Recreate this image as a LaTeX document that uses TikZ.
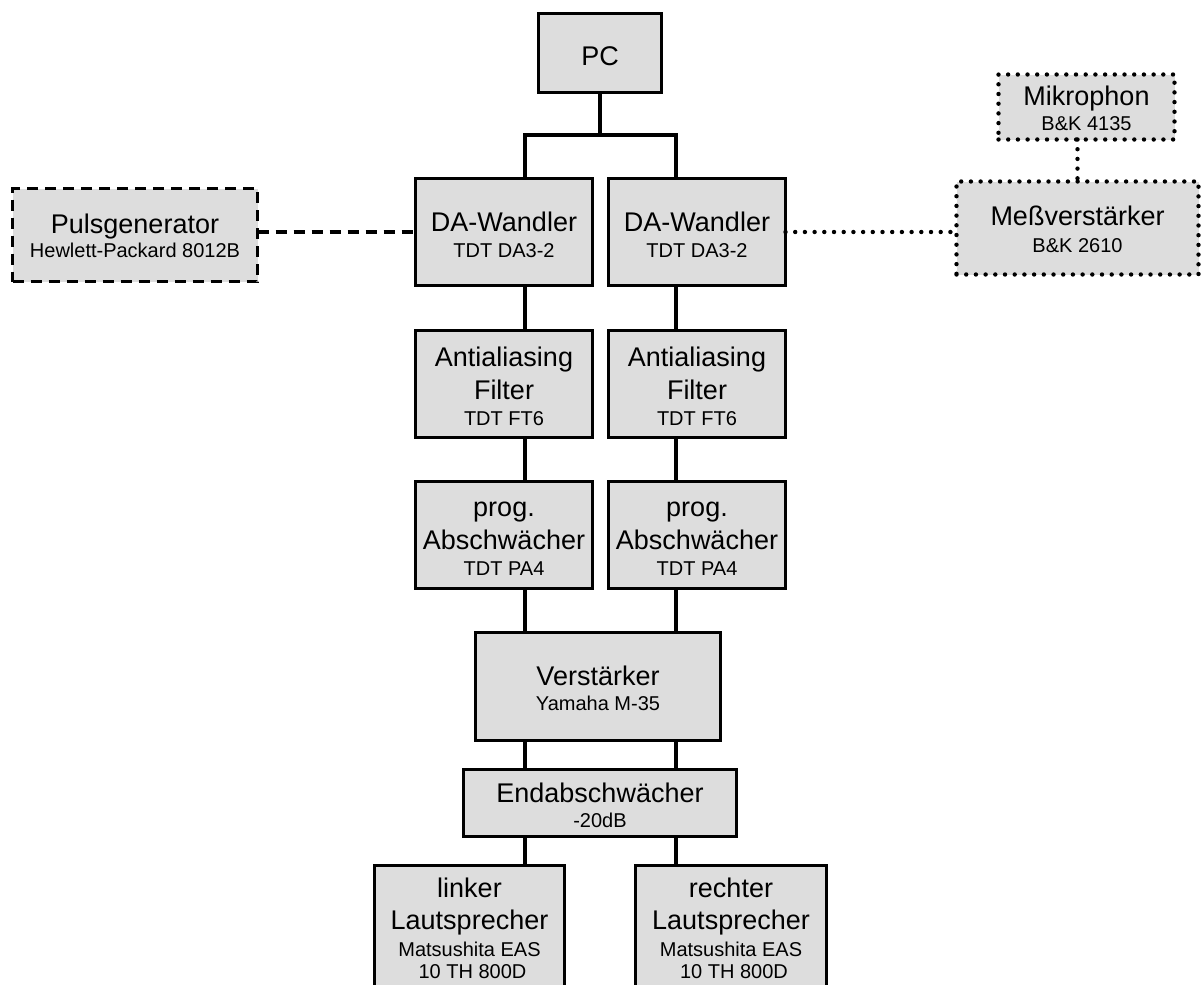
\documentclass[tikz,border=0pt]{standalone}
\usepackage{fontspec}
\setmainfont{Liberation Sans}
\usetikzlibrary{calc}
\definecolor{boxgray}{RGB}{221,221,221}
\tikzset{
  box/.style={draw, line width=3.6pt, fill=boxgray, inner sep=0pt, outer sep=0pt},
  dashbox/.style={box, dash pattern=on 11pt off 7pt},
  dotbox/.style={box, line width=4.4pt, line cap=round, dash pattern=on 0pt off 9.7pt},
  wire/.style={line width=3.6pt},
  dashwire/.style={line width=3.6pt, dash pattern=on 11pt off 7pt},
  dotwire/.style={line width=4.4pt, line cap=round, dash pattern=on 0pt off 9.7pt},
  txt/.style={anchor=base, inner sep=0pt, outer sep=0pt},
  big/.style={txt, font=\fontsize{27}{27}\selectfont},
  small/.style={txt, font=\fontsize{20}{20}\selectfont},
}
\newcommand\tl[5]{\node[#1] (#2) at ($(#3.center)+(0,#4)$) {#5};}
\begin{document}
\begin{tikzpicture}[x=1pt,y=-1pt]
\useasboundingbox (0,0) rectangle (1202,985);
\clip (0,0) rectangle (1202,985);
% boxes
\node[box, minimum width=123pt, minimum height=79pt] (PC) at (600,53) {};
\node[box, minimum width=177pt, minimum height=107pt] (DAL) at (504,232) {};
\node[box, minimum width=177pt, minimum height=107pt] (DAR) at (697,232) {};
\node[box, minimum width=177pt, minimum height=107pt] (AAL) at (504,384) {};
\node[box, minimum width=177pt, minimum height=107pt] (AAR) at (697,384) {};
\node[box, minimum width=177pt, minimum height=107pt] (PGL) at (504,535) {};
\node[box, minimum width=177pt, minimum height=107pt] (PGR) at (697,535) {};
\node[box, minimum width=245pt, minimum height=108pt] (V) at (598,686.5) {};
\node[box, minimum width=273pt, minimum height=67pt] (E) at (600,803) {};
\node[box, minimum width=190pt, minimum height=134.5pt] (LL) at (469.5,932.75) {};
\node[box, minimum width=191pt, minimum height=134.5pt] (LR) at (731,932.75) {};
\node[dashbox, minimum width=245pt, minimum height=93pt] (Puls) at (135,235) {};
\node[dotbox, minimum width=242pt, minimum height=93pt] (Mess) at (1077.5,228) {};
\node[dotbox, minimum width=176pt, minimum height=65pt] (Mikro) at (1086.5,107) {};
% column coordinates
\coordinate (cl) at (525,0);
\coordinate (cr) at (676,0);
\coordinate (j) at (600,135);
% connectors
\draw[wire] (PC.south) -- (j);
\draw[wire] (DAL.north -| cl) |- (j) -| (DAR.north -| cr);
\draw[wire] (DAL.south -| cl) -- (AAL.north -| cl);
\draw[wire] (DAR.south -| cr) -- (AAR.north -| cr);
\draw[wire] (AAL.south -| cl) -- (PGL.north -| cl);
\draw[wire] (AAR.south -| cr) -- (PGR.north -| cr);
\draw[wire] (PGL.south -| cl) -- (V.north -| cl);
\draw[wire] (PGR.south -| cr) -- (V.north -| cr);
\draw[wire] (V.south -| cl) -- (E.north -| cl);
\draw[wire] (V.south -| cr) -- (E.north -| cr);
\draw[wire] (E.south -| cl) -- (LL.north -| cl);
\draw[wire] (E.south -| cr) -- (LR.north -| cr);
\draw[dashwire] (Puls.east |- DAL.west) -- (DAL.west);
\draw[dotwire] (DAR.east) -- (DAR.east -| Mess.west);
\draw[dotwire] (Mikro.south -| Mess.north) -- (Mess.north);
% texts
\tl{big}{tPC}{PC}{12}{PC}
\tl{big}{tDAL1}{DAL}{-1}{DA-Wandler}
\tl{small}{tDAL2}{DAL}{25}{TDT DA3-2}
\tl{big}{tDAR1}{DAR}{-1}{DA-Wandler}
\tl{small}{tDAR2}{DAR}{25}{TDT DA3-2}
\tl{big}{tAAL1}{AAL}{-18}{Antialiasing}
\tl{big}{tAAL2}{AAL}{15}{Filter}
\tl{small}{tAAL3}{AAL}{41}{TDT FT6}
\tl{big}{tAAR1}{AAR}{-18}{Antialiasing}
\tl{big}{tAAR2}{AAR}{15}{Filter}
\tl{small}{tAAR3}{AAR}{41}{TDT FT6}
\tl{big}{tPGL1}{PGL}{-18.5}{prog.}
\tl{big}{tPGL2}{PGL}{14.5}{Abschwächer}
\tl{small}{tPGL3}{PGL}{40.5}{TDT PA4}
\tl{big}{tPGR1}{PGR}{-18.5}{prog.}
\tl{big}{tPGR2}{PGR}{14.5}{Abschwächer}
\tl{small}{tPGR3}{PGR}{40.5}{TDT PA4}
\tl{big}{tV1}{V}{-1.5}{Verstärker}
\tl{small}{tV2}{V}{23.5}{Yamaha M-35}
\tl{big}{tE1}{E}{-1}{Endabschwächer}
\tl{small}{tE2}{E}{24}{-20dB}
\tl{big}{tLL1}{LL}{-35.75}{linker}
\tl{big}{tLL2}{LL}{-3.75}{Lautsprecher}
\tl{small}{tLL3}{LL}{23.25}{Matsushita EAS}
\node[small] (tLL4) at ($(LL.center)+(3,45.25)$) {10 TH 800D};
\tl{big}{tLR1}{LR}{-35.75}{rechter}
\tl{big}{tLR2}{LR}{-3.75}{Lautsprecher}
\tl{small}{tLR3}{LR}{23.25}{Matsushita EAS}
\node[small] (tLR4) at ($(LR.center)+(3,45.25)$) {10 TH 800D};
\tl{big}{tPuls1}{Puls}{-2}{Pulsgenerator}
\tl{small}{tPuls2}{Puls}{22}{Hewlett-Packard 8012B}
\tl{big}{tMess1}{Mess}{-3}{Meßverstärker}
\tl{small}{tMess2}{Mess}{24}{B\&K 2610}
\tl{big}{tMikro1}{Mikro}{-1.5}{Mikrophon}
\tl{small}{tMikro2}{Mikro}{23}{B\&K 4135}
\end{tikzpicture}
\end{document}
